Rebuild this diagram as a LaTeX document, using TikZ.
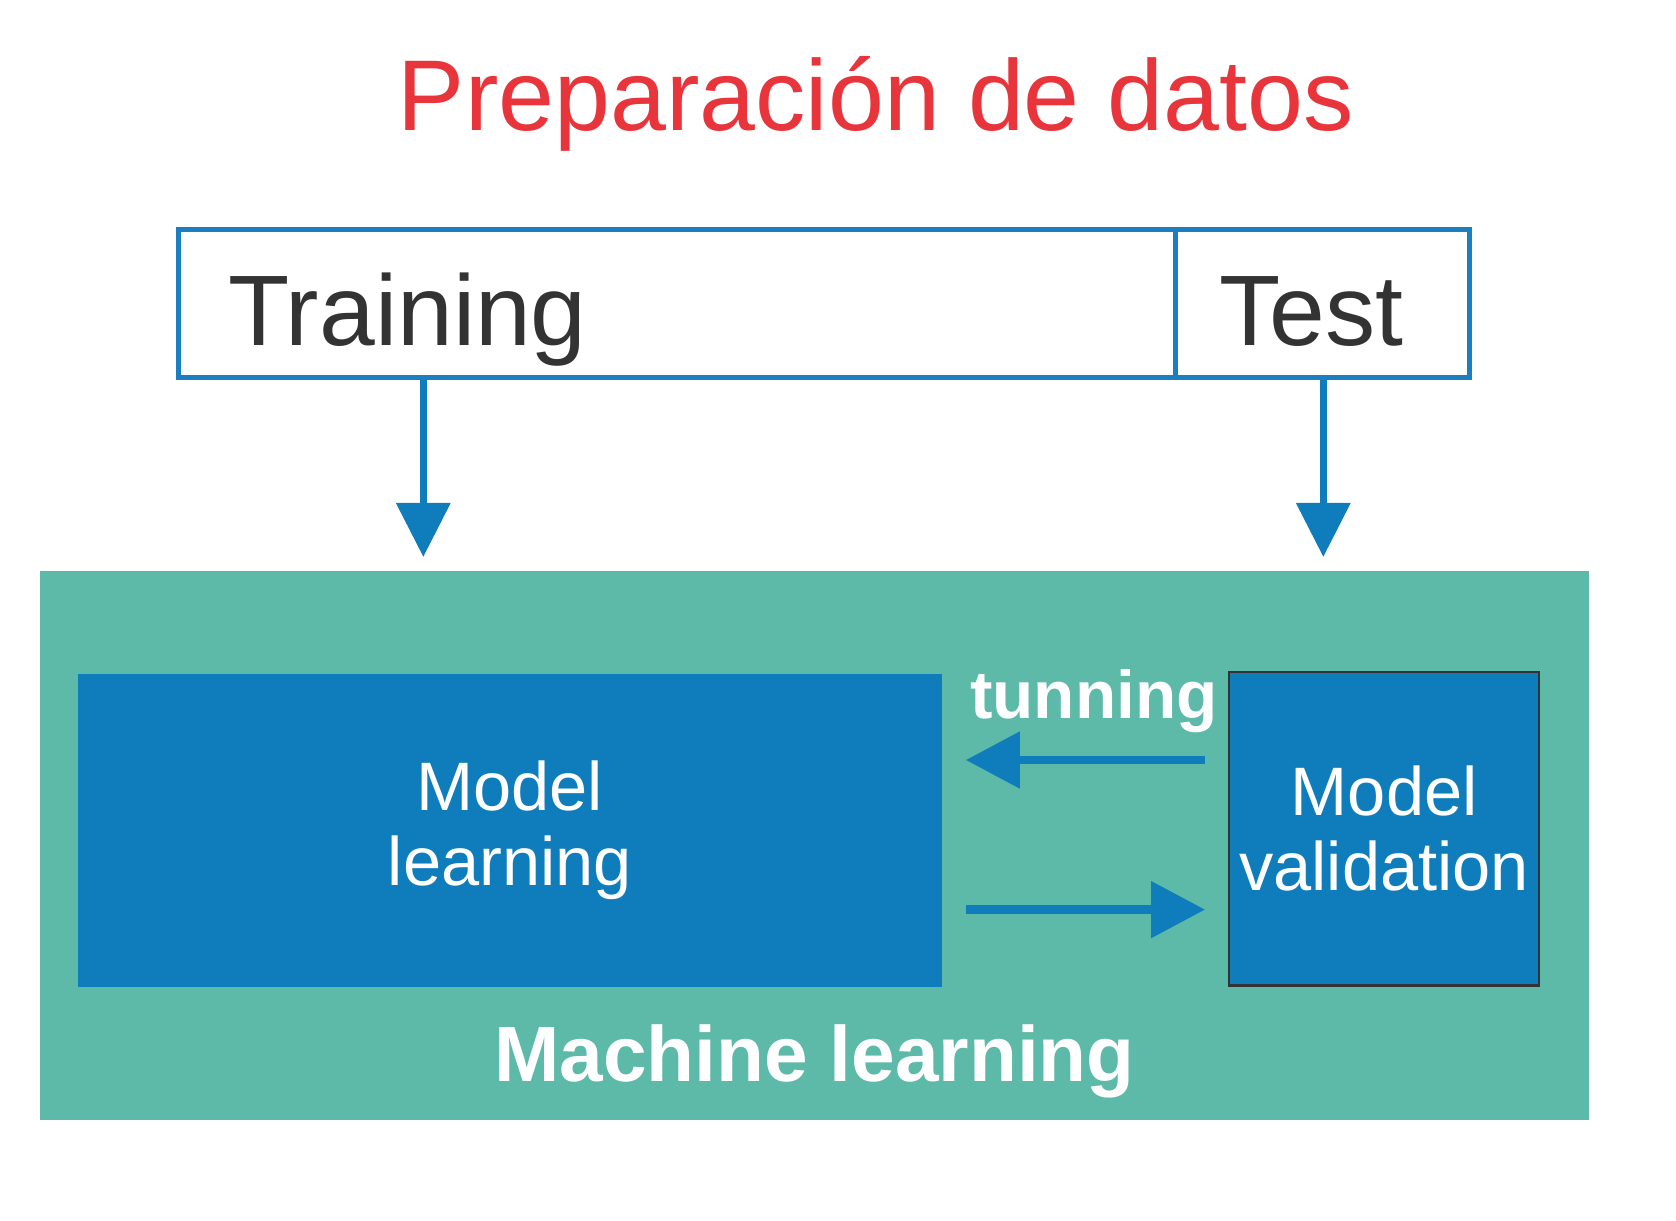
\documentclass[tikz,border=0pt]{standalone}
\usepackage{fontspec}
\setmainfont{Liberation Sans}
\usetikzlibrary{arrows.meta}

\definecolor{titlered}{HTML}{E8353B}
\definecolor{splitblue}{HTML}{1A7EC0}
\definecolor{modelblue}{HTML}{0F7DBC}
\definecolor{mlgreen}{HTML}{5DBAA8}
\definecolor{textgray}{HTML}{333333}

\tikzset{
	databox/.style={draw=splitblue, line width=1.4pt, fill=white, inner sep=0pt, minimum height=1.475cm},
	datatext/.style={anchor=base west, inner sep=0pt, text=textgray, font=\fontsize{28.5}{34}\selectfont},
	modelbox/.style={fill=modelblue, inner sep=0pt, align=center, text=white, font=\fontsize{19.5}{21.3}\selectfont},
	downarrow/.style={draw=modelblue, line width=2pt, -{Triangle[length=0.54cm, width=0.53cm]}},
	sidearrow/.style={draw=modelblue, line width=2.4pt, -{Triangle[length=0.54cm, width=0.55cm]}, shorten <=0.23cm, shorten >=0.23cm}
}

\begin{document}
\begin{tikzpicture}[x=0.01cm, y=-0.01cm]
	\useasboundingbox (0,0) rectangle (1676,1220);

	% title
	\node[anchor=base, inner sep=0pt, text=titlered, font=\fontsize{28.6}{35}\selectfont] (title) at (876,130) {Preparación de datos};

	% training / test split
	\node[databox, minimum width=9.97cm] (training) at (677.15,303.55) {};
	\node[databox, minimum width=2.94cm] (test) at (1322.8,303.55) {};
	\node[datatext] (trainlabel) at (227.7,345.3) {Training};
	\node[datatext] (testlabel) at (1218.6,345.3) {Test};

	% arrows down
	\coordinate (traintip) at (423.3,556.9);
	\coordinate (testtip) at (1323.3,556.9);
	\draw[downarrow] (training.south -| traintip) -- (traintip);
	\draw[downarrow] (test.south -| testtip) -- (testtip);

	% machine learning block
	\node[fill=mlgreen, inner sep=0pt, minimum width=15.48cm, minimum height=5.49cm] (mlblock) at (814.5,845.5) {};
	\node[modelbox, minimum width=8.64cm, minimum height=3.12cm] (learn) at (509.85,830.55) {Model\\learning};
	\node[modelbox, draw=textgray, line width=0.6pt, minimum width=3.1cm, minimum height=3.13cm] (valid) at (1384.2,828.9) {Model\\validation};
	\node[anchor=base, inner sep=0pt, text=white, font=\bfseries\fontsize{22.3}{26}\selectfont] (mllabel) at (814.5,1081.7) {Machine learning};

	% tunning loop
	\coordinate (backrow) at (0,760);
	\coordinate (forthrow) at (0,909.6);
	\draw[sidearrow] (valid.west |- backrow) -- (learn.east |- backrow);
	\draw[sidearrow] (learn.east |- forthrow) -- (valid.west |- forthrow);
	\node[anchor=base west, inner sep=0pt, text=white, font=\bfseries\fontsize{19.2}{23}\selectfont] (tunelabel) at (969.5,718.3) {tunning};

\end{tikzpicture}
\end{document}
